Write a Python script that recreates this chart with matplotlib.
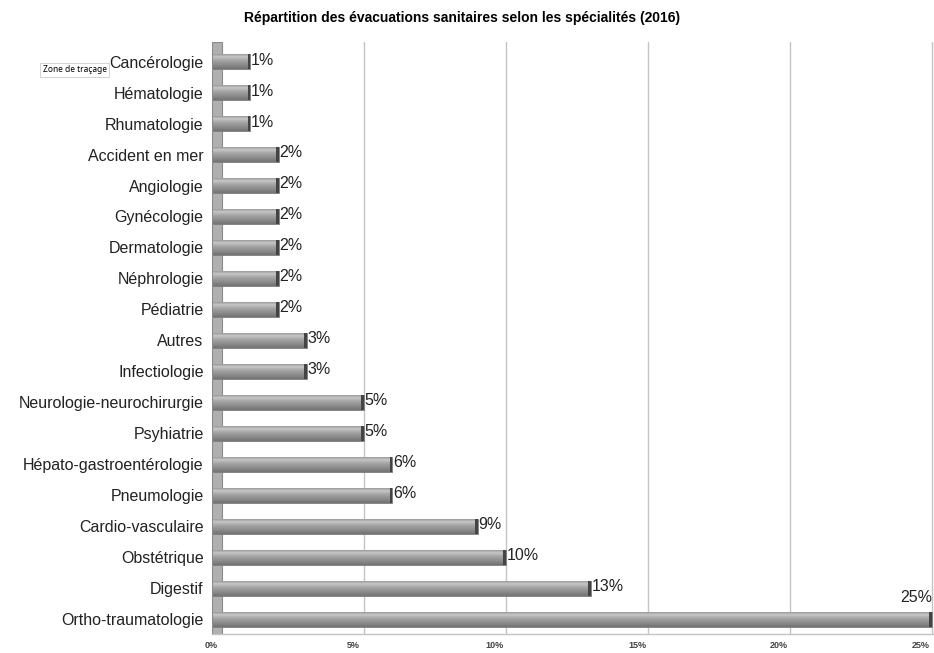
import numpy as np
import matplotlib
matplotlib.use("Agg")
import matplotlib.pyplot as plt
import matplotlib.transforms as mtransforms
from matplotlib.patches import Rectangle

plt.rcParams["font.family"] = ["Liberation Sans", "DejaVu Sans"]

# data, top to bottom as shown
specialites = ["Cancérologie", "Hématologie", "Rhumatologie", "Accident en mer",
               "Angiologie", "Gynécologie", "Dermatologie", "Néphrologie",
               "Pédiatrie", "Autres", "Infectiologie", "Neurologie-neurochirurgie",
               "Psyhiatrie", "Hépato-gastroentérologie", "Pneumologie",
               "Cardio-vasculaire", "Obstétrique", "Digestif", "Ortho-traumatologie"]
pourcentages = [1, 1, 1, 2, 2, 2, 2, 2, 2, 3, 3, 5, 5, 6, 6, 9, 10, 13, 25]
ticks = [0, 5, 10, 15, 20, 25]
tick_labels = ["0%", "5%", "10%", "15%", "20%", "25%"]

n = len(specialites)
ypos = np.arange(n)[::-1]
depth = 0.3  # bars start inside the 3D back wall

fig = plt.figure(figsize=(9.34, 6.53), dpi=100)
ax = fig.add_axes([0.227, 0.029, 0.773, 0.907])
ax.set_xlim(-0.35, 25.07)
ax.set_ylim(-0.48, n - 1 + 0.64)

# gridlines
for t in ticks[1:]:
    ax.axvline(t, color="#c4c4c4", lw=1, zorder=0)

# back wall
ax.add_patch(Rectangle((-0.35, -0.48), 0.35, n - 1 + 1.12, facecolor="#b0b0b0",
                       edgecolor="#8a8a8a", lw=0.8, zorder=1))

# bars with a cylinder-like gradient
grad = np.array([0.62, 0.80, 0.72, 0.66, 0.62, 0.58, 0.55, 0.51, 0.46]).reshape(-1, 1)
h = 0.48
widths = [v + depth for v in pourcentages]
bars = ax.barh(ypos, widths, height=h, left=-depth, color="#999999",
               edgecolor="#7a7a7a", lw=0.6, zorder=2)
for b, v, y in zip(bars, pourcentages, ypos):
    im = ax.imshow(grad, cmap="gray", vmin=0, vmax=1, aspect="auto",
                   extent=(-depth, v, y - h / 2, y + h / 2), zorder=3, interpolation="bicubic")
    im.set_clip_path(b)
    ax.add_patch(Rectangle((v - 0.1, y - h / 2), 0.1, h, facecolor="#444444",
                           edgecolor="none", zorder=4))
    if v == 25:
        ax.text(25.0, y + 0.45, f"{v}%", ha="right", va="bottom", fontsize=11.5,
                color="#222222", zorder=5)
    else:
        ax.text(v + 0.02, y + 0.05, f"{v}%", ha="left", va="center", fontsize=11.5,
                color="#222222", zorder=5)

ax.set_yticks(ypos)
ax.set_yticklabels(specialites, fontsize=11.5, color="#222222")
ax.tick_params(axis="y", length=0, pad=6)

ax.set_xticks(ticks)
ax.set_xticklabels(tick_labels, fontsize=6.5, color="#444444", fontweight="bold")
ax.tick_params(axis="x", length=0, pad=5)
offset = mtransforms.ScaledTranslation(-0.11, 0, fig.dpi_scale_trans)
for lab in ax.get_xticklabels():
    lab.set_transform(lab.get_transform() + offset)

for s in ax.spines.values():
    s.set_visible(False)
ax.plot([-0.35, 25.07], [-0.48, -0.48], color="#c4c4c4", lw=1, clip_on=False, zorder=1)

fig.text(0.495, 0.972, "Répartition des évacuations sanitaires selon les spécialités (2016)",
         ha="center", va="center", fontsize=10, fontweight="bold")

fig.text(0.046, 0.893, "Zone de traçage", fontsize=6, ha="left", va="center",
         family=["Noto Sans", "DejaVu Sans"], zorder=10,
         bbox=dict(boxstyle="square,pad=0.3", facecolor="white", edgecolor="#cccccc", lw=0.6))

fig.savefig("out.png", dpi=100)
